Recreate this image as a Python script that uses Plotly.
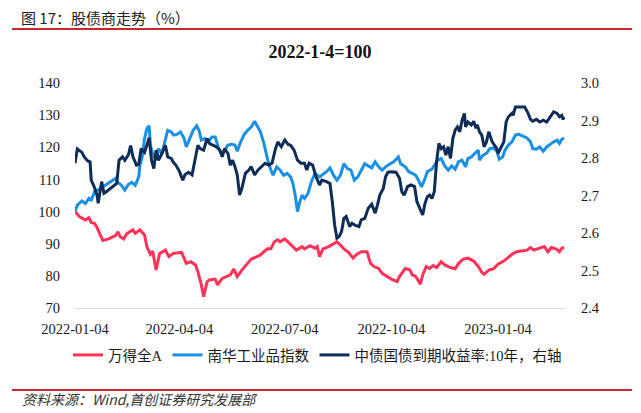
import plotly.graph_objects as go

# ---------------- data ----------------
wind_dates = ["2022-01-04","2022-01-08","2022-01-13","2022-01-16","2022-01-18","2022-01-21","2022-01-23","2022-01-26","2022-01-28",
"2022-02-02","2022-02-08","2022-02-10","2022-02-12","2022-02-15","2022-02-18","2022-02-23","2022-02-25","2022-03-01","2022-03-05",
"2022-03-07","2022-03-10","2022-03-12","2022-03-15","2022-03-18","2022-03-23","2022-03-26","2022-03-30","2022-04-06","2022-04-10",
"2022-04-14","2022-04-18","2022-04-20","2022-04-23","2022-04-25","2022-04-28","2022-04-30","2022-05-05","2022-05-07","2022-05-11",
"2022-05-15","2022-05-18","2022-05-21","2022-05-24","2022-05-28","2022-06-01","2022-06-05","2022-06-10","2022-06-13","2022-06-16",
"2022-06-19","2022-06-22","2022-06-25","2022-06-28","2022-06-30","2022-07-04","2022-07-07","2022-07-11","2022-07-14","2022-07-19",
"2022-07-21","2022-07-26","2022-07-30","2022-08-01","2022-08-03","2022-08-06","2022-08-11","2022-08-15","2022-08-18","2022-08-21",
"2022-08-24","2022-08-28","2022-09-01","2022-09-04","2022-09-08","2022-09-13","2022-09-16","2022-09-19","2022-09-23","2022-09-26",
"2022-09-30","2022-10-04","2022-10-09","2022-10-11","2022-10-16","2022-10-20","2022-10-22","2022-10-25","2022-10-29","2022-10-31",
"2022-11-03","2022-11-06","2022-11-09","2022-11-12","2022-11-16","2022-11-19","2022-11-24","2022-11-28","2022-12-01","2022-12-05",
"2022-12-09","2022-12-14","2022-12-18","2022-12-21","2022-12-23","2022-12-27","2022-12-31","2023-01-04","2023-01-09","2023-01-11",
"2023-01-16","2023-01-20","2023-01-24","2023-01-29","2023-02-01","2023-02-04","2023-02-07","2023-02-10","2023-02-13","2023-02-16",
"2023-02-19","2023-02-23","2023-02-26","2023-02-28","2023-03-02"]
wind_values = [100,98.4,97.4,98.1,96.6,96.3,95.0,92.9,91.0,
91.5,92.5,93.7,92.2,91.5,93.2,94.3,93.2,94.3,92.7,
89.1,86.7,87.7,81.8,87.0,88.0,86.0,87.0,87.3,83.9,
84.4,83.4,81.3,77.2,73.5,78.2,78.7,79.0,77.2,79.2,
79.8,80.3,82.1,79.8,81.8,83.4,85.2,86.0,86.5,87.5,
88.4,88.4,90.6,91.2,90.6,91.5,90.6,89.1,88.0,89.1,
88.4,89.4,88.6,89.1,86.0,88.4,89.1,90.1,90.6,89.6,
88.4,87.3,85.5,86.7,87.5,87.5,83.9,82.9,82.3,80.8,
79.8,79.0,78.2,79.8,82.3,81.8,80.3,79.8,77.4,80.3,
82.9,82.3,83.2,82.6,84.4,83.4,82.6,82.2,83.9,85.2,
85.5,84.6,82.9,81.1,80.5,81.8,82.2,83.6,84.6,85.2,
86.7,87.5,87.7,88.0,88.8,88.0,88.4,88.8,89.1,87.5,
88.8,88.4,87.5,88.6,88.8]

nh_dates = ["2022-01-04","2022-01-06","2022-01-10","2022-01-13","2022-01-16","2022-01-18","2022-01-21","2022-01-24","2022-01-27",
"2022-01-31","2022-02-05","2022-02-08","2022-02-10","2022-02-13","2022-02-16","2022-02-19","2022-02-22","2022-02-25","2022-02-28",
"2022-03-01","2022-03-03","2022-03-05","2022-03-07","2022-03-09","2022-03-10","2022-03-12","2022-03-15","2022-03-17","2022-03-20",
"2022-03-23","2022-03-25","2022-03-28","2022-03-30","2022-04-02","2022-04-05","2022-04-08","2022-04-10","2022-04-13","2022-04-16",
"2022-04-19","2022-04-21","2022-04-23","2022-04-26","2022-04-29","2022-05-02","2022-05-05","2022-05-08","2022-05-11","2022-05-13",
"2022-05-16","2022-05-19","2022-05-22","2022-05-24","2022-05-27","2022-05-30","2022-06-02","2022-06-05","2022-06-08","2022-06-11",
"2022-06-13","2022-06-16","2022-06-19","2022-06-22","2022-06-24","2022-06-27","2022-06-30","2022-07-03","2022-07-06","2022-07-09",
"2022-07-11","2022-07-13","2022-07-15","2022-07-17","2022-07-19","2022-07-21","2022-07-24","2022-07-27","2022-07-30","2022-08-03",
"2022-08-06","2022-08-09","2022-08-12","2022-08-15","2022-08-18","2022-08-21","2022-08-24","2022-08-27","2022-08-30","2022-09-02",
"2022-09-05","2022-09-08","2022-09-11","2022-09-14","2022-09-17","2022-09-20","2022-09-23","2022-09-26","2022-09-29","2022-10-03",
"2022-10-06","2022-10-10","2022-10-12","2022-10-16","2022-10-19","2022-10-22","2022-10-25","2022-10-28","2022-10-30","2022-11-02",
"2022-11-04","2022-11-08","2022-11-10","2022-11-13","2022-11-16","2022-11-19","2022-11-22","2022-11-25","2022-11-28","2022-12-01",
"2022-12-04","2022-12-07","2022-12-09","2022-12-12","2022-12-15","2022-12-18","2022-12-19","2022-12-22","2022-12-25","2022-12-28",
"2022-12-31","2023-01-03","2023-01-05","2023-01-08","2023-01-10","2023-01-13","2023-01-16","2023-01-19","2023-01-22","2023-01-25",
"2023-01-29","2023-02-01","2023-02-03","2023-02-06","2023-02-09","2023-02-12","2023-02-15","2023-02-18","2023-02-21","2023-02-24",
"2023-02-26","2023-02-28","2023-03-02"]
nh_values = [100,102.0,103.3,102.5,104.1,103.6,106.2,106.7,107.4,
108.4,109.5,110.3,109.1,108.2,106.7,108.4,109.1,108.2,110.8,
114.4,117.0,122.7,125.8,126.7,120.7,118.1,116.0,119.6,118.1,
122.7,125.3,124.8,123.8,124.0,124.8,122.9,120.1,122.7,125.3,
126.7,125.3,122.2,122.7,121.7,123.2,123.2,119.6,117.5,119.1,
120.7,120.9,120.7,118.8,121.7,124.0,125.3,126.3,128.1,126.3,
124.8,121.2,116.5,112.9,111.3,113.9,112.9,111.3,111.9,110.8,
108.8,105.1,100.0,103.1,105.1,104.1,105.6,109.3,111.9,110.8,
111.5,112.4,113.6,111.3,109.8,111.3,114.9,113.4,112.9,109.8,
110.8,112.9,114.9,114.2,113.6,115.5,113.9,112.9,113.9,114.9,
115.5,117.0,114.9,113.9,112.4,111.9,111.3,109.3,107.7,110.3,
112.4,113.2,114.4,116.0,116.5,114.2,112.9,114.2,113.2,115.5,
116.0,113.9,116.5,117.0,118.1,119.1,116.0,117.5,118.1,119.6,
119.8,118.8,116.3,117.0,119.1,120.7,121.7,123.8,124.0,123.6,
122.9,121.7,119.6,119.4,120.1,118.8,120.1,120.9,121.7,122.2,
121.2,122.5,122.9]

cgb_dates = ["2022-01-04","2022-01-06","2022-01-10","2022-01-12","2022-01-15","2022-01-17","2022-01-18","2022-01-20","2022-01-23",
"2022-01-24","2022-01-27","2022-01-29","2022-01-31","2022-02-05","2022-02-09","2022-02-11","2022-02-14","2022-02-16","2022-02-19",
"2022-02-21","2022-02-23","2022-02-26","2022-02-28","2022-03-02","2022-03-05","2022-03-07","2022-03-09","2022-03-11","2022-03-13",
"2022-03-15","2022-03-17","2022-03-20","2022-03-23","2022-03-25","2022-03-28","2022-03-30","2022-04-01","2022-04-04","2022-04-07",
"2022-04-09","2022-04-12","2022-04-15","2022-04-18","2022-04-20","2022-04-22","2022-04-25","2022-04-28","2022-04-30","2022-05-03",
"2022-05-06","2022-05-09","2022-05-11","2022-05-13","2022-05-16","2022-05-18","2022-05-20","2022-05-22","2022-05-24","2022-05-26",
"2022-05-28","2022-05-31","2022-06-03","2022-06-05","2022-06-08","2022-06-11","2022-06-14","2022-06-17","2022-06-20","2022-06-23",
"2022-06-26","2022-06-28","2022-07-01","2022-07-04","2022-07-07","2022-07-09","2022-07-12","2022-07-15","2022-07-18","2022-07-21",
"2022-07-23","2022-07-25","2022-07-28","2022-07-31","2022-08-03","2022-08-05","2022-08-09","2022-08-12","2022-08-14","2022-08-16",
"2022-08-18","2022-08-20","2022-08-22","2022-08-24","2022-08-26","2022-08-29","2022-08-31","2022-09-03","2022-09-06","2022-09-08",
"2022-09-11","2022-09-14","2022-09-17","2022-09-20","2022-09-22","2022-09-24","2022-09-27","2022-09-29","2022-10-01","2022-10-04",
"2022-10-08","2022-10-11","2022-10-13","2022-10-15","2022-10-18","2022-10-21","2022-10-24","2022-10-26","2022-10-29","2022-10-31",
"2022-11-02","2022-11-04","2022-11-06","2022-11-08","2022-11-10","2022-11-12","2022-11-14","2022-11-16","2022-11-18","2022-11-20",
"2022-11-22","2022-11-24","2022-11-26","2022-11-28","2022-11-30","2022-12-02","2022-12-04","2022-12-06","2022-12-07","2022-12-09",
"2022-12-12","2022-12-14","2022-12-16","2022-12-17","2022-12-19","2022-12-21","2022-12-23","2022-12-25","2022-12-27","2022-12-30",
"2023-01-01","2023-01-03","2023-01-04","2023-01-07","2023-01-09","2023-01-11","2023-01-13","2023-01-16","2023-01-17","2023-01-19",
"2023-01-23","2023-01-27","2023-01-30","2023-02-01","2023-02-03","2023-02-06","2023-02-09","2023-02-12","2023-02-15","2023-02-18",
"2023-02-21","2023-02-24","2023-02-26","2023-02-28","2023-03-01","2023-03-02"]
cgb_values = [2.786,2.824,2.815,2.803,2.792,2.790,2.741,2.728,2.701,
2.679,2.737,2.706,2.710,2.721,2.732,2.794,2.803,2.794,2.808,
2.833,2.803,2.781,2.783,2.825,2.815,2.834,2.854,2.794,2.772,
2.821,2.794,2.812,2.834,2.803,2.799,2.788,2.781,2.765,2.741,
2.756,2.762,2.755,2.803,2.834,2.825,2.821,2.852,2.839,2.834,
2.830,2.821,2.803,2.825,2.812,2.781,2.794,2.777,2.755,2.701,
2.719,2.759,2.768,2.777,2.755,2.768,2.777,2.786,2.781,2.786,
2.825,2.843,2.830,2.848,2.836,2.834,2.821,2.794,2.786,2.786,
2.768,2.786,2.781,2.750,2.728,2.741,2.737,2.732,2.684,2.622,
2.586,2.591,2.604,2.639,2.644,2.617,2.626,2.620,2.617,2.635,
2.639,2.666,2.677,2.653,2.675,2.701,2.719,2.750,2.762,2.763,
2.762,2.746,2.710,2.701,2.724,2.728,2.724,2.684,2.662,2.648,
2.679,2.697,2.701,2.692,2.710,2.790,2.839,2.825,2.830,2.808,
2.830,2.799,2.852,2.874,2.883,2.870,2.901,2.919,2.883,2.896,
2.888,2.898,2.879,2.889,2.870,2.861,2.830,2.843,2.870,2.843,
2.834,2.825,2.812,2.830,2.843,2.896,2.910,2.919,2.914,2.936,
2.936,2.936,2.919,2.903,2.898,2.903,2.896,2.901,2.896,2.910,
2.923,2.919,2.910,2.914,2.903,2.910]

x_tick_labels = ["2022-01-04", "2022-04-04", "2022-07-04", "2022-10-04", "2023-01-04"]
left_ticks = [70, 80, 90, 100, 110, 120, 130, 140]
right_ticks = [2.4, 2.5, 2.6, 2.7, 2.8, 2.9, 3.0]

series_names = ["万得全A", "南华工业品指数", "中债国债到期收益率:10年，右轴"]
series_colors = ["#FF3358", "#1A8FE6", "#0E2C55"]

# ---------------- figure ----------------
W, H = 641, 413
ML, MR, MT, MB = 75, 76, 83, 105
PW, PH = W - ML - MR, H - MT - MB

def px(x):
    return (x - ML) / PW

def py(y):
    return (H - MB - y) / PH

serif = "Liberation Serif, Times New Roman, Noto Sans CJK SC, serif"

fig = go.Figure()
fig.add_trace(go.Scatter(x=wind_dates, y=wind_values, name=series_names[0], mode="lines",
                         line=dict(color=series_colors[0], width=3)))
fig.add_trace(go.Scatter(x=nh_dates, y=nh_values, name=series_names[1], mode="lines",
                         line=dict(color=series_colors[1], width=3)))
fig.add_trace(go.Scatter(x=cgb_dates, y=cgb_values, name=series_names[2], mode="lines",
                         line=dict(color=series_colors[2], width=3), yaxis="y2"))

fig.update_layout(
    width=W, height=H,
    margin=dict(l=ML, r=MR, t=MT, b=MB, pad=0),
    paper_bgcolor="white", plot_bgcolor="white",
    font=dict(family=serif, size=14, color="#1a1a1a"),
    title=dict(text="<b>2022-1-4=100</b>", x=320 / W, xanchor="center",
               y=1 - 52 / H, yanchor="middle", yref="container",
               font=dict(family=serif, size=18, color="#111111")),
    xaxis=dict(type="date", range=["2022-01-04", "2023-03-02 19:00"],
               tickvals=x_tick_labels, ticktext=x_tick_labels,
               showgrid=False, zeroline=False, showline=True, linecolor="#D9D9D9", linewidth=1,
               ticks="outside", ticklen=8, tickcolor="rgba(0,0,0,0)",
               tickfont=dict(family=serif, size=14.5, color="#1a1a1a")),
    yaxis=dict(range=[70, 140], tickvals=left_ticks, showgrid=False, zeroline=False,
               showline=False, ticks="outside", ticklen=11, tickcolor="rgba(0,0,0,0)",
               tickfont=dict(family=serif, size=14.5, color="#1a1a1a")),
    yaxis2=dict(range=[2.4, 3.0], tickvals=right_ticks, tickformat=".1f", overlaying="y", side="right",
                showgrid=False, zeroline=False, showline=False, ticks="outside", ticklen=12,
                tickcolor="rgba(0,0,0,0)",
                tickfont=dict(family=serif, size=14.5, color="#1a1a1a")),
    legend=dict(orientation="h", x=px(68), xanchor="left", y=py(355), yanchor="middle",
                font=dict(family=serif, size=14.5, color="#1a1a1a"),
                itemwidth=30, tracegroupgap=0, bgcolor="rgba(0,0,0,0)"),
    showlegend=True,
)

# header, rules and source
fig.add_annotation(text="图 17：股债商走势（%）", xref="paper", yref="paper",
                   x=px(19), y=py(17), xanchor="left", yanchor="middle", showarrow=False,
                   font=dict(family="Noto Sans CJK SC, sans-serif", size=15, color="#222222"))
fig.add_shape(type="line", xref="paper", yref="paper", x0=px(12), x1=px(632), y0=py(29), y1=py(29),
              line=dict(color="#C8282D", width=2))
fig.add_shape(type="line", xref="paper", yref="paper", x0=px(12), x1=px(632), y0=py(390), y1=py(390),
              line=dict(color="#C8282D", width=2))
fig.add_annotation(text="<i>资料来源：Wind,首创证券研究发展部</i>", xref="paper", yref="paper",
                   x=px(20), y=py(399), xanchor="left", yanchor="middle", showarrow=False,
                   font=dict(family="Noto Sans CJK SC, sans-serif", size=14, color="#333333"))

fig.write_html("out.html", config={"displayModeBar": False},
               post_script="document.body.style.margin='0';document.body.style.overflow='hidden';")
